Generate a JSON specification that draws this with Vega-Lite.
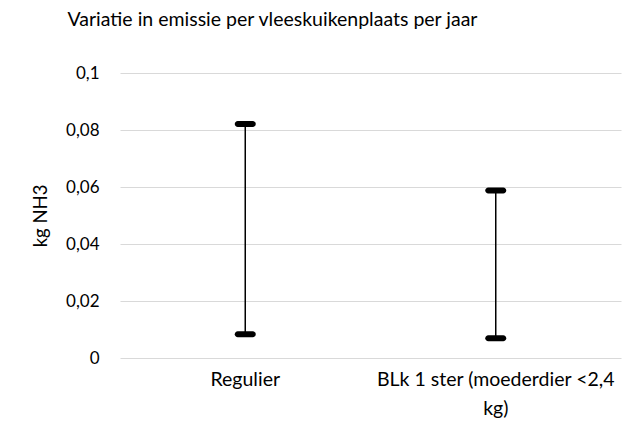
{
  "$schema": "https://vega.github.io/schema/vega-lite/v6.json",
  "autosize": {"type": "none"},
  "padding": {"left": 120, "top": 73, "right": 23, "bottom": 82},
  "width": 501,
  "height": 285,
  "background": "white",
  "config": {"view": {"stroke": null}, "font": "Lato"},
  "title": {
    "text": "Variatie in emissie per vleeskuikenplaats per jaar",
    "font": "Lato",
    "fontSize": 19.5,
    "fontWeight": "normal",
    "color": "#000000",
    "anchor": "middle",
    "dx": -98,
    "offset": 34
  },
  "data": {
    "values": [
      {"categorie": "Regulier", "min": 0.0083, "max": 0.0821},
      {"categorie": "BLk 1 ster (moederdier <2,4 kg)", "min": 0.0069, "max": 0.0588}
    ]
  },
  "encoding": {
    "x": {
      "field": "categorie",
      "type": "nominal",
      "sort": null,
      "scale": {"paddingInner": 0, "paddingOuter": 0},
      "axis": {
        "title": null,
        "labelAngle": 0,
        "labelFont": "Lato",
        "labelFontSize": 19.5,
        "labelColor": "#000000",
        "labelPadding": 12,
        "labelLineHeight": 29,
        "labelLimit": 0,
        "ticks": false,
        "domain": false,
        "labelExpr": "datum.value == 'BLk 1 ster (moederdier <2,4 kg)' ? ['BLk 1 ster (moederdier <2,4', 'kg)'] : datum.value"
      }
    }
  },
  "layer": [
    {
      "mark": {"type": "rule", "color": "#000000", "strokeWidth": 1.5},
      "encoding": {
        "y": {
          "field": "min",
          "type": "quantitative",
          "scale": {"domain": [0, 0.1], "nice": false},
          "axis": {
            "title": "kg NH3",
            "titleFont": "Lato",
            "titleFontSize": 18.5,
            "titleFontWeight": "normal",
            "titleColor": "#000000",
            "titlePadding": 15,
            "values": [0, 0.02, 0.04, 0.06, 0.08, 0.1],
            "labelExpr": "replace(format(datum.value, '~g'), '.', ',')",
            "labelFont": "Lato",
            "labelFontSize": 17,
            "labelColor": "#000000",
            "labelPadding": 21,
            "ticks": false,
            "domain": false,
            "grid": true,
            "gridColor": "#d9d9d9",
            "gridWidth": 1
          }
        },
        "y2": {"field": "max"}
      }
    },
    {
      "mark": {"type": "tick", "color": "#000000", "size": 21, "thickness": 6, "cornerRadius": 3, "opacity": 1},
      "encoding": {"y": {"field": "min", "type": "quantitative"}}
    },
    {
      "mark": {"type": "tick", "color": "#000000", "size": 21, "thickness": 6, "cornerRadius": 3, "opacity": 1},
      "encoding": {"y": {"field": "max", "type": "quantitative"}}
    }
  ]
}
